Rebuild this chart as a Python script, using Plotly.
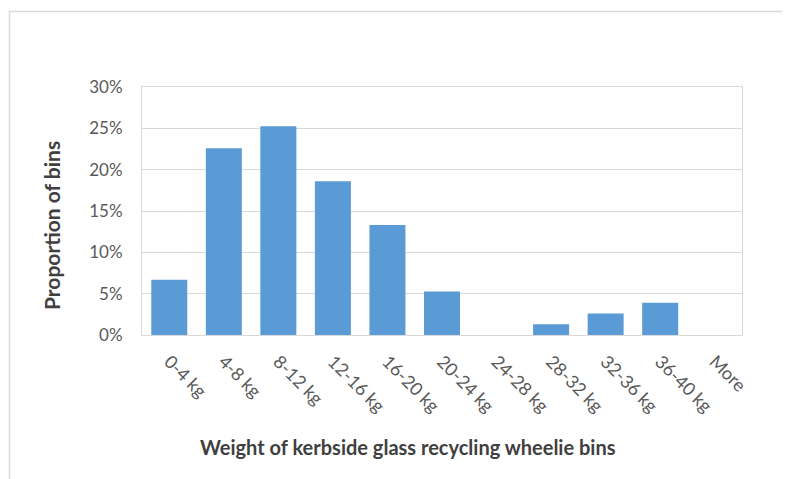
import plotly.graph_objects as go

categories = ["0-4 kg", "4-8 kg", "8-12 kg", "12-16 kg", "16-20 kg", "20-24 kg",
              "24-28 kg", "28-32 kg", "32-36 kg", "36-40 kg", "More"]
proportions = [0.0667, 0.226, 0.2525, 0.186, 0.133, 0.0525, 0.0, 0.013, 0.026, 0.039, 0.0]
y_ticks = [0, 0.05, 0.10, 0.15, 0.20, 0.25, 0.30]
y_tick_labels = ["0%", "5%", "10%", "15%", "20%", "25%", "30%"]

OFF = 8  # page body margin
W, H = 790, 479
L, R, T, B = 142 - OFF, 48 + OFF, 87 - OFF, 144 + OFF
pw, ph = W - L - R, H - T - B

fig = go.Figure(go.Bar(x=categories, y=proportions, marker_color="#5b9bd5",
                       marker_line_width=0))

def px_to_paper_x(px):
    return (px - OFF - L) / pw

def px_to_paper_y(py):
    return (H - B - (py - OFF)) / ph

fig.update_layout(
    width=W, height=H,
    margin=dict(l=L, r=R, t=T, b=B),
    paper_bgcolor="white", plot_bgcolor="white",
    bargap=0.34,
    showlegend=False,
    font=dict(family="Lato", color="#595959", size=17),
    xaxis=dict(tickangle=45, showline=True, linecolor="#d9d9d9", linewidth=1,
               mirror=True, ticks="", showgrid=False, ticklabelstandoff=8,
               tickfont=dict(size=18, color="#595959")),
    yaxis=dict(range=[0, 0.30], tickvals=y_ticks, ticktext=y_tick_labels,
               showgrid=True, gridcolor="#d9d9d9", gridwidth=1,
               showline=True, linecolor="#d9d9d9", linewidth=1, mirror=True,
               ticks="", ticklabelstandoff=15, zeroline=False,
               tickfont=dict(size=17, color="#595959")),
    shapes=[dict(type="rect", xref="paper", yref="paper",
                 x0=px_to_paper_x(9.5), x1=px_to_paper_x(800),
                 y0=px_to_paper_y(490), y1=px_to_paper_y(11.5),
                 line=dict(color="#d9d9d9", width=1.5), fillcolor="rgba(0,0,0,0)",
                 layer="below")],
    annotations=[
        dict(text="<b>Weight of kerbside glass recycling wheelie bins</b>",
             xref="paper", yref="paper", x=px_to_paper_x(408), y=px_to_paper_y(447),
             xanchor="center", yanchor="middle", showarrow=False,
             font=dict(size=20, color="#404040", family="Lato")),
        dict(text="<b>Proportion of bins</b>", textangle=-90,
             xref="paper", yref="paper", x=px_to_paper_x(51), y=px_to_paper_y(226),
             xanchor="center", yanchor="middle", showarrow=False,
             font=dict(size=21, color="#404040", family="Lato")),
    ],
)

fig.write_html("out.html")
